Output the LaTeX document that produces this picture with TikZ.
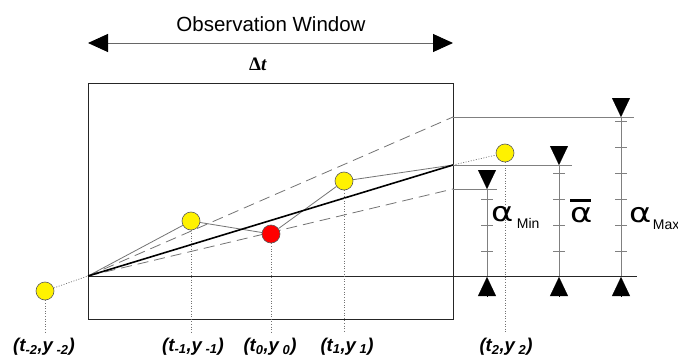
\documentclass[tikz,border=0pt]{standalone}
\usepackage{fontspec}
\setmainfont{Liberation Sans}
\newfontfamily\deltafont{Liberation Serif}
\newfontfamily\greekfont{DejaVu Sans}
\usetikzlibrary{arrows.meta}

\begin{document}
\begin{tikzpicture}[
    x=1pt, y=-1pt,
    sample/.style={
      circle,
      draw=black!65,
      fill=yellow,
      line width=0.6pt,
      minimum size=18pt,
      inner sep=0pt
    },
    current/.style={
      sample,
      fill=red
    },
    coordlabel/.style={
      anchor=base,
      inner sep=0pt,
      font=\bfseries\itshape\fontsize{18.5}{18.5}\selectfont
    },
    greek/.style={
      anchor=base west,
      inner sep=0pt,
      font=\greekfont\fontsize{27}{27}\selectfont
    },
    sub/.style={
      anchor=base west,
      inner sep=0pt,
      font=\fontsize{14}{14}\selectfont
    },
    trend/.style={
      line width=1.6pt,
      draw=black
    },
    bound/.style={
      dash pattern=on 11pt off 6pt,
      line width=0.8pt,
      draw=black!55
    },
    series/.style={
      line width=0.8pt,
      draw=black!55
    },
    drop/.style={
      dash pattern=on 1pt off 1.6pt,
      line width=0.7pt,
      draw=black!55
    },
    level/.style={
      line width=1pt,
      draw=black!50
    },
    zero/.style={
      line width=0.9pt,
      draw=black!85
    },
    endmark/.style={
      -{Triangle[length=19pt, width=18pt, color=black]},
      line width=0.1pt
    },
    span/.style={
      {Triangle[length=20pt, width=18pt, color=black]}-{Triangle[length=20pt, width=18pt, color=black]},
      line width=1pt,
      draw=black!60
    }
  ]
    \useasboundingbox (0,0) rectangle (678,356);

    % Observation window
    \node[anchor=base, inner sep=0pt, font=\fontsize{20.5}{20.5}\selectfont] (title) at (271,31) {Observation Window};
    \coordinate (wl) at (88,43);
    \coordinate (wr) at (453,43);
    \draw[span] (wl) -- (wr);
    \node[anchor=base, inner sep=0pt, font=\deltafont\bfseries\fontsize{19}{19}\selectfont] (dt) at (258,70) {Δ\textit{t}};
    \node[draw=black!85, line width=0.9pt, minimum width=365pt, minimum height=236pt, inner sep=0pt] (win) at (270.5,201) {};

    % Levels at the right edge of the window
    \coordinate (o) at (88,276);
    \coordinate (hi) at (453,117);
    \coordinate (mid) at (453,165);
    \coordinate (lo) at (453,189);
    \coordinate (hiend) at (634,117);
    \coordinate (midend) at (572,165);
    \coordinate (loend) at (497,189);
    \coordinate (zeroend) at (637,276);

    \draw[bound] (o) -- (hi);
    \draw[bound] (o) -- (lo);
    \draw[level] (hi) -- (hiend);
    \draw[level] (mid) -- (midend);
    \draw[level] (lo) -- (loend);
    \draw[zero] (o) -- (zeroend);

    % Samples
    \node[sample] (tm2) at (45,291) {};
    \node[sample] (tm1) at (191,221) {};
    \node[current] (t0) at (271,234) {};
    \node[sample] (tp1) at (344,181) {};
    \node[sample] (tp2) at (505,153) {};

    \draw[series] (o) -- (tm1) -- (t0) -- (tp1) -- (mid);
    \draw[trend] (o) -- (mid);
    \draw[drop] (tm2) -- (o);
    \draw[drop] (mid) -- (tp2);

    % Sample labels
    \node[coordlabel] (ltm2) at (44,351) {(t\textsubscript{-2},y\textsubscript{ -2})};
    \node[coordlabel] (ltm1) at (193,351) {(t\textsubscript{-1},y\textsubscript{ -1})};
    \node[coordlabel] (lt0) at (270,351) {(t\textsubscript{0},y\textsubscript{ 0})};
    \node[coordlabel] (ltp1) at (347,351) {(t\textsubscript{1},y\textsubscript{ 1})};
    \node[coordlabel] (ltp2) at (506,351) {(t\textsubscript{2},y\textsubscript{ 2})};
    \foreach \p in {tm2,tm1,t0,tp1,tp2}
      \draw[drop] (\p) -- (\p |- 0,333);

    % Scales
    \foreach \x/\top/\ticks in {487/189/{199,225,251}, 559/165/{173,199,225,251}, 621/117/{121,147,173,199,225,251}} {
      \draw[level] (\x,\top) -- (\x,276);
      \draw[endmark] (\x,\top-19) -- (\x,\top);
      \draw[endmark] (\x,296) -- (\x,277);
      \foreach \y in \ticks
        \draw[level] (\x-6,\y) -- (\x+6,\y);
    }

    \node[greek] (amin) at (491,221) {\scalebox{1.25}[1]{α}};
    \node[sub] (lmin) at ([xshift=3pt, yshift=-7pt]amin.base east) {Min};
    \node[greek] (abar) at (570,222) {\makebox[0pt][l]{\raisebox{20pt}{\rule{21pt}{2.6pt}}}\scalebox{1.25}[1]{α}};
    \node[greek] (amax) at (629,222) {\scalebox{1.25}[1]{α}};
    \node[sub] (lmax) at ([xshift=1pt, yshift=-7pt]amax.base east) {Max};

\end{tikzpicture}
\end{document}
